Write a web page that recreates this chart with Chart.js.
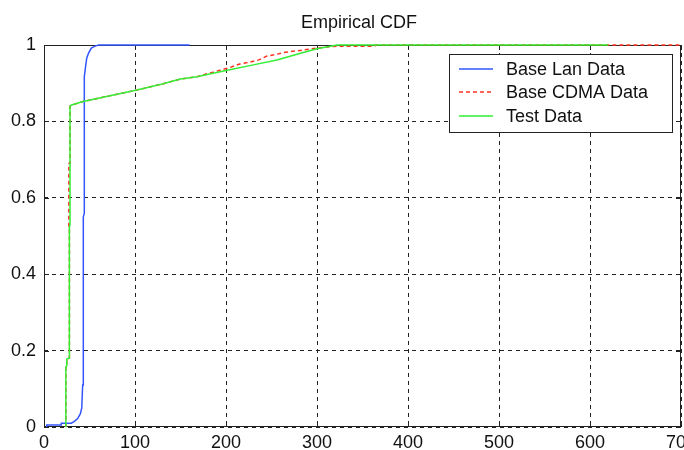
<!DOCTYPE html>
<html><head><meta charset="utf-8">
<script src="https://cdn.jsdelivr.net/npm/chart.js@4.4.0/dist/chart.umd.min.js"></script>
<style>html,body{margin:0;padding:0;background:#fff;} canvas{display:block;}</style>
</head><body>
<canvas id="c" width="684" height="450"></canvas>
<script>
const chartTitle = 'Empirical CDF';
const seriesNames = ['Base Lan Data', 'Base CDMA Data', 'Test Data'];

const lanX = [3, 3, 19, 19, 30, 33, 37, 40, 41.5, 42.5, 43.2, 43.2, 44.3, 44.3, 45.5, 47, 49, 52, 56, 60, 160];
const lanY = [0, 0.005, 0.005, 0.01, 0.01, 0.014, 0.022, 0.035, 0.05, 0.11, 0.11, 0.55, 0.56, 0.917, 0.94, 0.966, 0.979, 0.992, 0.997, 1, 1];

const cdmaX = [24, 24, 25, 25, 27.9, 27.9, 27.3, 27.3, 28.6, 28.6, 30.4, 43, 70, 102, 130, 150, 168, 186, 204, 215, 226, 236, 245, 256, 265, 275, 285, 303, 322, 362, 366, 700];
const cdmaY = [0, 0.157, 0.16, 0.178, 0.18, 0.52, 0.52, 0.69, 0.69, 0.84, 0.843, 0.852, 0.866, 0.882, 0.898, 0.911, 0.917, 0.929, 0.941, 0.95, 0.955, 0.961, 0.971, 0.976, 0.981, 0.984, 0.987, 0.993, 0.997, 0.997, 1, 1];

const testX = [24, 24, 25, 25, 27.9, 27.9, 28.6, 28.6, 30.4, 43, 70, 102, 130, 150, 168, 200, 230, 256, 280, 300, 322, 620];
const testY = [0, 0.157, 0.16, 0.178, 0.18, 0.524, 0.53, 0.84, 0.843, 0.852, 0.866, 0.882, 0.898, 0.911, 0.917, 0.933, 0.948, 0.961, 0.977, 0.99, 1, 1];

const xTicks = [0, 100, 200, 300, 400, 500, 600, 700];
const yTicks = [0, 0.2, 0.4, 0.6, 0.8, 1];

const FONT = "'Liberation Sans', Arial, sans-serif";
const toPts = (xs, ys) => xs.map((x, i) => ({x: x, y: ys[i]}));

const framePlugin = {
  id: 'frame',
  beforeDatasetsDraw(chart) {
    const {ctx, chartArea: a, scales} = chart;
    ctx.save();
    ctx.strokeStyle = '#222';
    ctx.lineWidth = 1;
    ctx.setLineDash([]);
    ctx.strokeRect(Math.round(a.left) + 0.5, Math.round(a.top) + 0.5, Math.round(a.right - a.left) - 1, Math.round(a.bottom - a.top) - 1);
    const tl = 5;
    ctx.beginPath();
    xTicks.forEach(v => {
      const px = Math.round(scales.x.getPixelForValue(v)) + 0.5;
      ctx.moveTo(px, a.bottom); ctx.lineTo(px, a.bottom - tl);
      ctx.moveTo(px, a.top); ctx.lineTo(px, a.top + tl);
    });
    yTicks.forEach(v => {
      const py = Math.round(scales.y.getPixelForValue(v)) + 0.5;
      ctx.moveTo(a.left, py); ctx.lineTo(a.left + tl, py);
      ctx.moveTo(a.right, py); ctx.lineTo(a.right - tl, py);
    });
    ctx.stroke();
    ctx.restore();
  },
  afterDraw(chart) {
    const {ctx, chartArea: a} = chart;
    ctx.save();
    ctx.fillStyle = '#111';
    ctx.font = '18px ' + FONT;
    ctx.textAlign = 'center';
    ctx.textBaseline = 'alphabetic';
    ctx.fillText(chartTitle, 359, 28);
    // legend
    const bw = 223, bh = 78;
    const bx = Math.round(a.right - 9 - bw), by = Math.round(a.top + 9);
    ctx.fillStyle = '#fff';
    ctx.fillRect(bx, by, bw, bh);
    ctx.strokeStyle = '#222';
    ctx.lineWidth = 1;
    ctx.strokeRect(bx + 0.5, by + 0.5, bw, bh);
    const rows = [15, 38, 62];
    chart.data.datasets.forEach((ds, i) => {
      const y = by + rows[i];
      ctx.beginPath();
      ctx.strokeStyle = ds.borderColor;
      ctx.lineWidth = 1.5;
      ctx.setLineDash(ds.borderDash || []);
      ctx.moveTo(bx + 10, y); ctx.lineTo(bx + 44, y);
      ctx.stroke();
      ctx.setLineDash([]);
      ctx.fillStyle = '#111';
      ctx.textAlign = 'left';
      ctx.textBaseline = 'middle';
      ctx.font = '18px ' + FONT;
      ctx.fillText(ds.label, bx + 57, y + 1);
    });
    ctx.restore();
  }
};

new Chart(document.getElementById('c'), {
  type: 'line',
  data: {
    datasets: [
      {label: seriesNames[0], data: toPts(lanX, lanY), borderColor: '#3355ff', borderWidth: 1.5, pointRadius: 0, fill: false, tension: 0, order: 1, clip: false},
      {label: seriesNames[1], data: toPts(cdmaX, cdmaY), borderColor: '#ff3322', borderDash: [4, 3], borderWidth: 1.5, pointRadius: 0, fill: false, tension: 0, order: 2, clip: false},
      {label: seriesNames[2], data: toPts(testX, testY), borderColor: '#33ee33', borderWidth: 1.5, pointRadius: 0, fill: false, tension: 0, order: 0, clip: false}
    ]
  },
  options: {
    responsive: false,
    animation: false,
    devicePixelRatio: 1,
    layout: {padding: {left: 0, right: 3, top: 45, bottom: 0}},
    plugins: {legend: {display: false}, title: {display: false}, tooltip: {enabled: false}},
    scales: {
      x: {
        type: 'linear', min: 0, max: 700,
        afterBuildTicks: s => { s.ticks = xTicks.map(v => ({value: v})); },
        afterFit: s => { s.height = 23; s.paddingLeft = 0; s.paddingRight = 0; },
        grid: {color: '#222', lineWidth: 1, drawTicks: false},
        border: {display: false, dash: [4, 4]},
        ticks: {color: '#111', padding: 5, maxRotation: 0, autoSkip: false, callback: v => String(v), font: {family: FONT, size: 18}}
      },
      y: {
        type: 'linear', min: 0, max: 1,
        afterBuildTicks: s => { s.ticks = yTicks.map(v => ({value: v})); },
        afterFit: s => { s.width = 44; },
        grid: {color: '#222', lineWidth: 1, drawTicks: false},
        border: {display: false, dash: [4, 4]},
        ticks: {color: '#111', padding: 8, callback: v => String(v), font: {family: FONT, size: 18}}
      }
    }
  },
  plugins: [framePlugin]
});
</script>
</body></html>
